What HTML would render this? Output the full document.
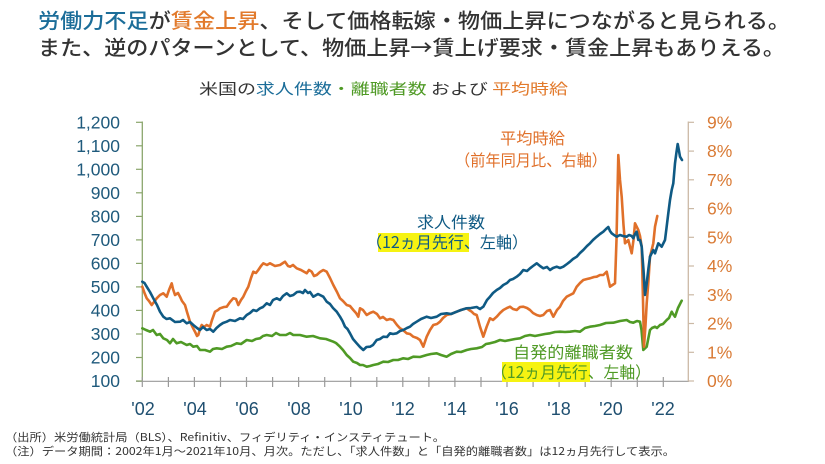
<!DOCTYPE html>
<html><head><meta charset="utf-8">
<style>
html,body{margin:0;padding:0;background:#fff;}
svg{display:block;}
text{font-family:"Liberation Sans","Noto Sans CJK JP",sans-serif;}
.cjk{font-family:"Noto Sans CJK JP","Liberation Sans",sans-serif;}
</style></head>
<body>
<svg width="825" height="464" viewBox="0 0 825 464" xmlns="http://www.w3.org/2000/svg">
<rect width="825" height="464" fill="#fff"/>
<!-- Titles -->
<text class="cjk" x="38" y="28" font-size="20.5" font-weight="500" fill="#333" textLength="752" lengthAdjust="spacingAndGlyphs"><tspan fill="#1b6d99">労働力不足</tspan>が<tspan fill="#e27a2c">賃金上昇</tspan>、そして価格転嫁・物価上昇につながると見られる。</text>
<text class="cjk" x="38" y="55" font-size="20.5" font-weight="500" fill="#333" textLength="747" lengthAdjust="spacingAndGlyphs">また、逆のパターンとして、物価上昇→賃上げ要求・賃金上昇もありえる。</text>
<text class="cjk" x="199" y="94" font-size="15" fill="#333" textLength="369" lengthAdjust="spacingAndGlyphs">米国の<tspan fill="#1b6d99">求人件数</tspan><tspan fill="#4f9a25">・離職者数</tspan>  および <tspan fill="#e27a2c">平均時給</tspan></text>

<!-- Axes -->
<line x1="136" y1="381.3" x2="689" y2="381.3" stroke="#9a9a9a" stroke-width="1.2"/>
<line x1="142.3" y1="121.5" x2="142.3" y2="381.3" stroke="#8aa56c" stroke-width="1.3"/>
<line x1="688.3" y1="121.5" x2="688.3" y2="381.3" stroke="#cbb9a5" stroke-width="1.3"/>
<g stroke="#8aa56c" stroke-width="1.2">
<line x1="136" y1="381" x2="142.3" y2="381"/><line x1="136" y1="357.5" x2="142.3" y2="357.5"/><line x1="136" y1="334" x2="142.3" y2="334"/><line x1="136" y1="310.4" x2="142.3" y2="310.4"/><line x1="136" y1="286.9" x2="142.3" y2="286.9"/><line x1="136" y1="263.4" x2="142.3" y2="263.4"/><line x1="136" y1="239.9" x2="142.3" y2="239.9"/><line x1="136" y1="216.4" x2="142.3" y2="216.4"/><line x1="136" y1="192.8" x2="142.3" y2="192.8"/><line x1="136" y1="169.3" x2="142.3" y2="169.3"/><line x1="136" y1="145.8" x2="142.3" y2="145.8"/><line x1="136" y1="122.3" x2="142.3" y2="122.3"/>
</g>
<g stroke="#cbb9a5" stroke-width="1.2">
<line x1="688.3" y1="381" x2="694" y2="381"/><line x1="688.3" y1="352.3" x2="694" y2="352.3"/><line x1="688.3" y1="323.5" x2="694" y2="323.5"/><line x1="688.3" y1="294.8" x2="694" y2="294.8"/><line x1="688.3" y1="266" x2="694" y2="266"/><line x1="688.3" y1="237.3" x2="694" y2="237.3"/><line x1="688.3" y1="208.6" x2="694" y2="208.6"/><line x1="688.3" y1="179.8" x2="694" y2="179.8"/><line x1="688.3" y1="151.1" x2="694" y2="151.1"/><line x1="688.3" y1="122.3" x2="694" y2="122.3"/>
</g>
<g stroke="#9a9a9a" stroke-width="1.2">
<line x1="142.3" y1="377" x2="142.3" y2="387"/><line x1="168.4" y1="377" x2="168.4" y2="387"/><line x1="194.4" y1="377" x2="194.4" y2="387"/><line x1="220.5" y1="377" x2="220.5" y2="387"/><line x1="246.5" y1="377" x2="246.5" y2="387"/><line x1="272.6" y1="377" x2="272.6" y2="387"/><line x1="298.6" y1="377" x2="298.6" y2="387"/><line x1="324.7" y1="377" x2="324.7" y2="387"/><line x1="350.7" y1="377" x2="350.7" y2="387"/><line x1="376.8" y1="377" x2="376.8" y2="387"/><line x1="402.8" y1="377" x2="402.8" y2="387"/><line x1="428.9" y1="377" x2="428.9" y2="387"/><line x1="454.9" y1="377" x2="454.9" y2="387"/><line x1="481" y1="377" x2="481" y2="387"/><line x1="507" y1="377" x2="507" y2="387"/><line x1="533.1" y1="377" x2="533.1" y2="387"/><line x1="559.1" y1="377" x2="559.1" y2="387"/><line x1="585.2" y1="377" x2="585.2" y2="387"/><line x1="611.2" y1="377" x2="611.2" y2="387"/><line x1="637.3" y1="377" x2="637.3" y2="387"/><line x1="663.3" y1="377" x2="663.3" y2="387"/>
</g>

<!-- Left labels -->
<g font-size="17.5" fill="#1f5a7c" text-anchor="end">
<text x="120" y="387">100</text><text x="120" y="363.5">200</text><text x="120" y="340">300</text><text x="120" y="316.4">400</text><text x="120" y="292.9">500</text><text x="120" y="269.4">600</text><text x="120" y="245.9">700</text><text x="120" y="222.4">800</text><text x="120" y="198.8">900</text><text x="120" y="175.3">1,000</text><text x="120" y="151.8">1,100</text><text x="120" y="128.3">1,200</text>
</g>
<!-- Right labels -->
<g font-size="17.5" fill="#d97a34">
<text x="707" y="387">0%</text><text x="707" y="358.3">1%</text><text x="707" y="329.5">2%</text><text x="707" y="300.8">3%</text><text x="707" y="272">4%</text><text x="707" y="243.3">5%</text><text x="707" y="214.6">6%</text><text x="707" y="185.8">7%</text><text x="707" y="157.1">8%</text><text x="707" y="128.3">9%</text>
</g>
<!-- X labels -->
<g font-size="18" fill="#1f4f70" text-anchor="middle">
<text x="143" y="415">'02</text><text x="195" y="415">'04</text><text x="247" y="415">'06</text><text x="299" y="415">'08</text><text x="351" y="415">'10</text><text x="403" y="415">'12</text><text x="455" y="415">'14</text><text x="507" y="415">'16</text><text x="559" y="415">'18</text><text x="611" y="415">'20</text><text x="663" y="415">'22</text>
</g>

<!-- Highlights -->
<rect x="378" y="233" width="91" height="19" fill="#f6f312"/>
<rect x="502" y="362" width="88" height="20" fill="#f6f312"/>

<!-- Series -->
<g fill="none" stroke-width="2.6" stroke-linejoin="round" stroke-linecap="round">
<polyline stroke="#4f9a25" points="142.3,328.3 146,330 150,331.7 153,330 156.7,335 160,334 163.3,338.3 167,340 170,343.3 173,339 176.7,343.3 181,342 186.7,345 190,344 193.3,346.7 197,346 200,350 205,350 210,351.7 213,349 216.7,348.3 222,349 226.7,346.7 231,346 236.7,343.3 241,344 246.7,340 252,341 256,339 260,338.3 263,336 266.7,335 272,336 276,333 280,335 286,335 290,333 293.3,335 300,335 306.7,336.7 313,336 320,338.3 326,339 333.3,341.7 336,343 340,346.7 343,350 346.7,355 350,358 353.3,361.7 357,363 360,365 363,365 366.7,366.7 370,366 373.3,365 378,364 383.3,361.7 388,362 393.3,360 398,360 403.3,358.3 408,359 413.3,356.7 420,357 426.7,355 431,354 436.7,353.3 441,355 446.7,356.7 451,354 456.7,351.7 461,352 466.7,350 471,349 476.7,348.3 482,347 486,344 490,343.3 495,342 500,340 505,341 510,340 515,339 520,338.3 525,336 530,335 535,336 540,335 545,334 550,333.3 555,332 560,331.7 565,332 570,331.7 575,331 580,331.7 585,328 590,326.7 595,326 600,325 606,323 613.3,322.7 620,321 626.7,320 630,322 633.3,322.7 637,321 640,321.7 641.5,330 643.3,350 646.7,346.7 648,340 650,330 652,328 655,326.7 657,328 660,325 663,324 666.7,320 669,318 671.7,311.7 673,314 675,316.7 678,308 681.7,300.7"/>
<polyline stroke="#e0702a" points="142.3,286.7 144.5,293 146.7,298.3 149,301 151.7,305 154,302 156.7,298.3 160,295 163.3,293.3 166.7,296.7 169,290 171.7,283.3 173,289 175,295 178,293 180,296.7 182,301 185,305 187,312 190,321.7 193,328 195,331.7 197,336 198.3,335 200,329 201.7,325 204,327 206.7,325 210,326.7 212,320 215,311.7 218,310 220,308.3 224,307 226.7,306.7 230,302 233.3,298.3 236,299 238.3,305 241,300 243.3,296.7 246,291 248.3,286.7 251,278 253.3,271.7 256,273 258.3,270 261,266 263.3,263.3 267,265 270,263.3 275,266 280,265 283,263 285,261.7 288,266 290,266.7 293,265 296.7,268.3 301,270 306.7,273.3 309,270 311.7,271.7 314,276 316.7,275 320,272 323.3,270 326.7,271.7 330,278 333.3,285 337,292 340,298.3 343,301 346.7,305 350,306 353.3,310 356,313 358.3,316.7 360,308.3 363,310 366.7,315 370,313 373.3,311.7 377,314 380,318.3 383,317 386.7,320 390,319 393.3,320 397,325 400,328.3 403,330 406.7,333.3 410,334 413.3,336.7 417,338 420,340 423.3,346.7 426.7,336.7 430,330 433.3,325 437,324 440,321.7 443,318 446.7,315 451,314 456.7,311.7 461,310 466.7,308.3 469,310 471.7,311.7 474,314 476.7,315 480,326.7 483.3,336.7 486.7,326.7 490,318.3 493,320 496.7,316.7 500,313 503.3,310 507,308 510,306.7 513,309 516.7,310 520,307 523.3,306.7 527,308 530,310 533,313 536.7,315 540,316 543.3,315 547,311 550,310 553.3,316.7 557,310 560,306.7 563,301 566.7,296.7 570,295 573.3,293.3 576.7,286.7 580,283 583.3,280 587,279 590,278.3 594,277 596.7,276.7 600,275 603.3,275 606.7,271.7 608.5,280 610,286.7 612.5,285 615,283.3 616.5,240 618.3,155 620,180 621.7,196.7 623.5,225 625,243.3 628.3,240 631.7,253.3 633.5,240 635,223.3 638.3,230 640,236 641.7,246.7 643,300 644,346.7 645.5,325 646.7,303.3 648.5,280 650,256.7 653.3,243.3 655,226.7 657.3,216"/>
<polyline stroke="#0f5a84" points="142.3,281.7 144.5,283 146.7,286.7 150,292 153.3,298.3 157,305 160,311.7 163.3,316.7 166.5,319 170,318.3 175,322 180,321.7 183,320 186.7,323.3 190,322 193.3,325 197,328 200,330 203,327 206.7,330 210,329 213.3,331.7 216.5,328 220,325 223,323 226.7,321.7 230,320 235,321 240,318.3 243,319 246.7,315 250,313 253.3,310 256.5,311 260,308.3 263,307 266.7,303.3 270,305 273,300 276.7,298.3 280,300 283,296 286.7,293.3 290,296 293.3,295 297,292 300,291.7 303,293 305,290 308,293 310,292 313.3,296.7 318,294 323.3,296.7 326.7,301.7 330,304 333,308 336.7,311.7 340,316.7 342.5,321 345,326.7 347.5,329 350,333.3 353,339 356.7,343.3 360,347 363.3,350 366.5,347 370,346.7 373,345 376.7,340 380,339 383.3,336.7 387,337 390,333.3 393,334 396.7,333.3 400,331 403.3,330 407,328 410,326.7 413,324 416.7,321.7 421,319 426.7,316.7 431,318 436.7,316.7 441,314 446.7,313.3 451,314 456.7,311.7 461,310 466.7,308.3 471,308 476.7,307 480,309 483.3,306.7 487,300 490,296.7 493,293 496.7,290 500,288 503.3,285 507,283 510,280 513,279 516.7,276.7 520,274 523.3,270 527,271 530,268.3 533,266 536.7,263.3 540,266 543.3,268.3 547,267 550,270 553,268 556.7,266.7 560,268 563.3,266.7 567,264 570,261.7 573,259 576.7,256.7 580,253 583.3,250 587,246 590,243.3 593,240 596.7,236.7 600,234 603.3,231.7 606,229 608.3,227 610,231 611.7,233.3 614,235 616.7,236.7 620,235 623,236 626.7,236.7 629,235 631.7,236 633.3,238.3 635,234 636.7,231.7 638.3,240 640,240 641.7,246.7 643.5,270 645,295 646.7,283.3 648.5,268 650,256.7 653.3,250 655,253.3 658.3,243.3 661.7,246.7 665,240 666.5,228 668.3,213.3 670,200 671.7,190 673.3,183.3 675,163.3 676.5,152 677.7,144 679,151 680,156.7 682,160"/>
</g>

<!-- Annotations -->
<text class="cjk" x="500" y="144" font-size="16" fill="#e0702a" textLength="65" lengthAdjust="spacingAndGlyphs">平均時給</text>
<text class="cjk" x="455" y="166" font-size="16" fill="#e0702a" textLength="152" lengthAdjust="spacingAndGlyphs">（前年同月比、右軸）</text>
<text class="cjk" x="417" y="228" font-size="16" fill="#0f5a84" textLength="68" lengthAdjust="spacingAndGlyphs">求人件数</text>
<text class="cjk" x="366" y="248" font-size="16" fill="#0f5a84" textLength="162" lengthAdjust="spacingAndGlyphs">（12ヵ月先行、左軸）</text>
<text class="cjk" x="513" y="358" font-size="16" fill="#4f9a25" textLength="120" lengthAdjust="spacingAndGlyphs">自発的離職者数</text>
<text class="cjk" x="491" y="378" font-size="16" fill="#4f9a25" textLength="160" lengthAdjust="spacingAndGlyphs">（12ヵ月先行、左軸）</text>

<!-- Footnotes -->
<text class="cjk" x="5" y="441" font-size="11" fill="#333" textLength="440" lengthAdjust="spacingAndGlyphs">（出所）米労働統計局（BLS）、Refinitiv、フィデリティ・インスティテュート。</text>
<text class="cjk" x="5" y="455" font-size="11" fill="#333" textLength="670" lengthAdjust="spacingAndGlyphs">（注）データ期間：2002年1月～2021年10月、月次。ただし、「求人件数」と「自発的離職者数」は12ヵ月先行して表示。</text>
</svg>
</body></html>
